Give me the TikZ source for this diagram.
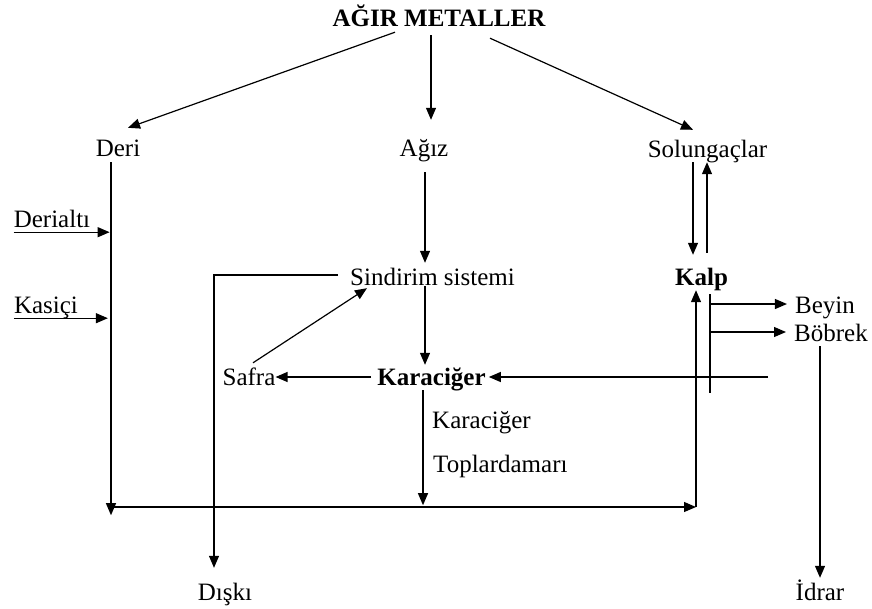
\documentclass[tikz,border=0pt]{standalone}
\usepackage{fontspec}
\setmainfont{Liberation Serif}
\usetikzlibrary{arrows.meta}
\begin{document}
\begin{tikzpicture}[x=1pt,y=-1pt,
  lbl/.style={inner sep=0pt,text height=17pt,text depth=5pt,font=\fontsize{25}{30}\selectfont},
  blbl/.style={lbl,font=\fontsize{25}{30}\selectfont\bfseries},
  arr/.style={line width=1.2pt,-{Triangle[length=12pt,width=10pt]}},
  ln/.style={line width=1.2pt}]
\useasboundingbox (0,0) rectangle (872,608);
% nodes
\node[blbl] (title) at (439,20) {AĞIR METALLER};
\node[lbl] (deri) at (118,150) {Deri};
\node[lbl] (agiz) at (424,150) {Ağız};
\node[lbl] (sol) at (707.5,151) {Solungaçlar};
\node[lbl] (derialti) at (52,221) {Derialtı};
\node[lbl] (kasici) at (46,307) {Kasiçi};
\node[lbl] (sind) at (432.5,279) {Sindirim sistemi};
\node[blbl] (kara) at (431.5,379) {Karaciğer};
\node[lbl] (safra) at (249,379) {Safra};
\node[lbl,anchor=west] (kara2) at (432,422) {Karaciğer};
\node[lbl,anchor=west] (toplar) at (433,466) {Toplardamarı};
\node[blbl] (kalp) at (701.5,279) {Kalp};
\node[lbl] (beyin) at (825,307) {Beyin};
\node[lbl] (bobrek) at (831,335) {Böbrek};
\node[lbl] (diski) at (225,594) {Dışkı};
\node[lbl] (idrar) at (820,594) {İdrar};
% junction coordinates
\coordinate (bl) at (111,507);
\coordinate (br) at (696,507);
\coordinate (v1) at (710,294);
\coordinate (v2) at (710,393);
\coordinate (beyinS) at (710,304);
\coordinate (bobrekS) at (710,332);
\coordinate (kin) at (768,377);
% title arrows
\draw[arr] ([xshift=-44pt,yshift=-1pt]title.south) -- ([xshift=10pt,yshift=11pt]deri.north);
\draw[arr] ([xshift=-8pt,yshift=-4pt]title.south) -- ([xshift=7pt,yshift=19pt]agiz.north);
\draw[arr] ([xshift=51pt,yshift=-7pt]title.south) -- ([xshift=-14.5pt,yshift=10pt]sol.north);
% Deri branch
\draw[arr] ([xshift=-7pt,yshift=-1pt]deri.south) -- ++(0,353);
\draw[arr] (derialti.south west) -- ++(96,0);
\draw[arr] (kasici.south west) -- ++(94,0);
\draw[arr] (bl) -- (br);
\draw[arr] (br) -- ([xshift=-5.5pt]kalp.south);
% digestive
\draw[arr] ([xshift=1pt,yshift=-11pt]agiz.south) -- ([xshift=-7.5pt,yshift=5pt]sind.north);
\draw[arr] ([xshift=-12pt,yshift=4pt]sind.west) -| ([xshift=-11pt,yshift=15pt]diski.north);
\draw[arr] ([xshift=-7.5pt,yshift=4pt]sind.south) -- ([xshift=-6.5pt,yshift=3pt]kara.north);
\draw[arr] ([xshift=-6pt,yshift=2pt]kara.west) -- ([yshift=2pt]safra.east);
\draw[arr] ([xshift=4pt,yshift=5pt]safra.north) -- ([xshift=-65.5pt,yshift=2pt]sind.south);
\draw[arr] ([xshift=-8.5pt]kara.south) -- ++(0,115);
% gills / heart
\draw[arr] ([xshift=-14.5pt]sol.south) -- ([xshift=-8.5pt,yshift=13pt]kalp.north);
\draw[arr] ([xshift=5.5pt,yshift=15pt]kalp.north) -- ([xshift=-0.5pt]sol.south);
\draw[ln] (v1) -- (v2);
\draw[arr] (beyinS) -- ([xshift=-8pt,yshift=3pt]beyin.west);
\draw[arr] (bobrekS) -- ([xshift=-8pt,yshift=3pt]bobrek.west);
\draw[arr] (kin) -- ([xshift=3pt,yshift=2pt]kara.east);
\draw[arr] ([xshift=-11pt]bobrek.south) -- ([yshift=5pt]idrar.north);
\end{tikzpicture}
\end{document}
